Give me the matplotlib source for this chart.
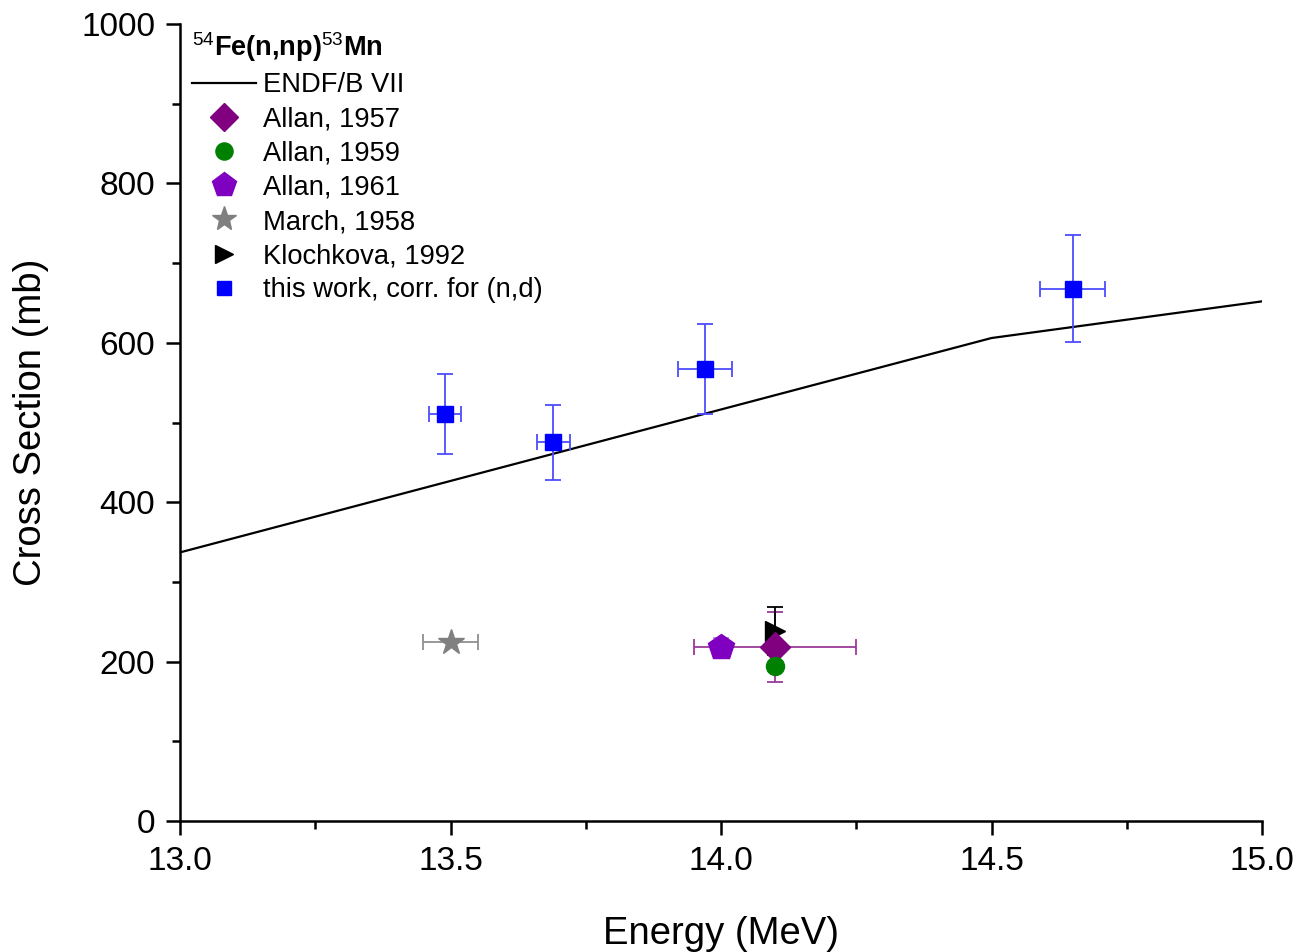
import numpy as np
import matplotlib
matplotlib.use("Agg")
from matplotlib import pyplot as plt

plt.rcParams["font.family"] = ["Liberation Sans", "DejaVu Sans"]
plt.rcParams["mathtext.fontset"] = "custom"
plt.rcParams["mathtext.rm"] = "Liberation Sans"
plt.rcParams["mathtext.bf"] = "Liberation Sans:bold"

# ENDF/B VII evaluation
endf_e = [13.0, 14.5, 15.0]
endf_xs = [337, 606, 652]

# experimental data: energy, xs, energy err, xs err
allan57_e, allan57_xs, allan57_de, allan57_dxs = [14.1], [218], [0.15], [44]
allan59_e, allan59_xs = [14.1], [195]
allan61_e, allan61_xs, allan61_dxs = [14.0], [218], [12]
march_e, march_xs, march_de = [13.5], [224], [0.05]
kloch_e, kloch_xs, kloch_dxs = [14.1], [238], [30]
this_e = [13.49, 13.69, 13.97, 14.65]
this_xs = [511, 475, 567, 668]
this_de = [0.03, 0.03, 0.05, 0.06]
this_dxs = [50, 47, 56, 67]

fig = plt.figure(figsize=(12.97, 9.52), dpi=100)
ax = fig.add_axes([180 / 1297, 1 - 821 / 952, (1262 - 180) / 1297, (821 - 24) / 952])

ax.plot(endf_e, endf_xs, color="black", lw=1.6, label="ENDF/B VII", zorder=2)

# error bars first (no legend entries)
eb = dict(capsize=6, elinewidth=1.3, capthick=1.3, fmt="none")
ax.errorbar(allan57_e, allan57_xs, xerr=allan57_de, yerr=allan57_dxs, ecolor="#9a3a9a", zorder=3, **eb)
ax.errorbar(allan61_e, allan61_xs, yerr=allan61_dxs, ecolor="#c080e0", zorder=3, **eb)
ax.errorbar(march_e, march_xs, xerr=march_de, ecolor="#909090", zorder=3, **eb)
ax.errorbar(kloch_e, kloch_xs, yerr=kloch_dxs, ecolor="black", zorder=3, **eb)
ax.errorbar(this_e, this_xs, xerr=this_de, yerr=this_dxs, ecolor="#4d4dff", zorder=3, **eb)

# markers
ax.plot(allan57_e, allan57_xs, "D", color="#800080", ms=15, ls="none", label="Allan, 1957", zorder=5)
ax.plot(allan59_e, allan59_xs, "o", color="#008000", ms=13, ls="none", label="Allan, 1959", zorder=5)
ax.plot(allan61_e, allan61_xs, "p", color="#7f00c0", ms=19, ls="none", label="Allan, 1961", zorder=5)
ax.plot(march_e, march_xs, "*", color="#808080", ms=19, ls="none", label="March, 1958", zorder=5)
ax.plot(kloch_e, kloch_xs, ">", color="black", ms=14, ls="none", label="Klochkova, 1992", zorder=4)
ax.plot(this_e, this_xs, "s", color="blue", ms=11, ls="none", label="this work, corr. for (n,d)", zorder=5)

ax.set_xlim(13.0, 15.0)
ax.set_ylim(0, 1000)
ax.set_xticks(np.arange(13.0, 15.01, 0.5))
ax.set_xticks(np.arange(13.25, 15.0, 0.5), minor=True)
ax.set_yticks(np.arange(0, 1001, 200))
ax.set_yticks(np.arange(100, 1000, 200), minor=True)
ax.set_xticklabels(["13.0", "13.5", "14.0", "14.5", "15.0"])

for s in ["top", "right"]:
    ax.spines[s].set_visible(False)
for s in ["left", "bottom"]:
    ax.spines[s].set_linewidth(1.8)
ax.tick_params(which="major", direction="out", length=10, width=1.8, labelsize=24, pad=8)
ax.tick_params(which="minor", direction="out", length=6, width=1.8)

ax.set_xlabel("Energy (MeV)", fontsize=27.5, labelpad=28)
ax.set_ylabel("Cross Section (mb)", fontsize=27.5, labelpad=23)

leg = ax.legend(loc="upper left", bbox_to_anchor=(0.001, 1.006), frameon=False, fontsize=19.7,
                title=r"$^{54}$Fe(n,np)$^{53}$Mn", title_fontproperties={"weight": "bold", "size": 19.5},
                handlelength=2.33, handletextpad=0.25, labelspacing=0.30, borderaxespad=0.0,
                alignment="left", numpoints=1, markerscale=0.95)

fig.savefig("out.png", dpi=100)
